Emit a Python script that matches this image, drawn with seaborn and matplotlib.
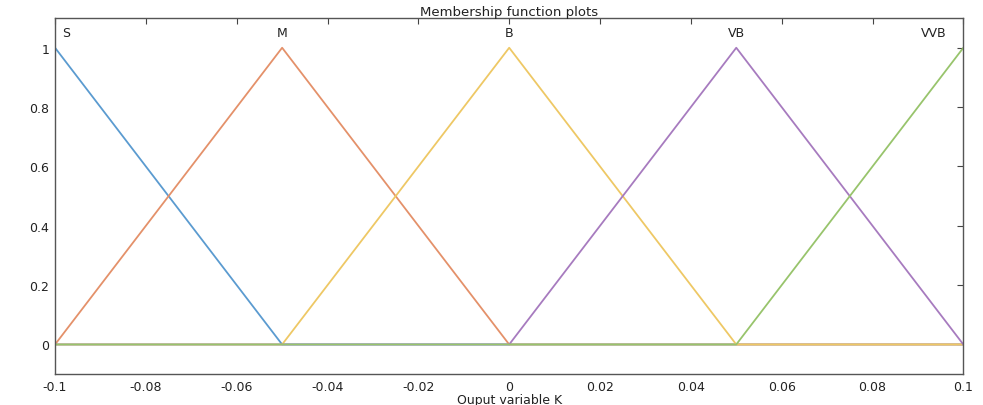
import matplotlib
matplotlib.use("Agg")
import matplotlib.pyplot as plt
import seaborn as sns
import pandas as pd

sns.set_style("white")
plt.rcParams['font.family'] = ['DejaVu Sans']

names = ["S", "M", "B", "VB", "VVB"]
x_S = [-0.1, -0.05, 0.1]
y_S = [1, 0, 0]
x_M = [-0.1, -0.05, 0.0, 0.1]
y_M = [0, 1, 0, 0]
x_B = [-0.1, -0.05, 0.0, 0.05, 0.1]
y_B = [0, 0, 1, 0, 0]
x_VB = [-0.1, 0.0, 0.05, 0.1]
y_VB = [0, 0, 1, 0]
x_VVB = [-0.1, 0.05, 0.1]
y_VVB = [0, 0, 1]

colors = ["#5b9bd0", "#e4916a", "#eec865", "#a77bbf", "#98c46c"]

series = [(x_S, y_S), (x_M, y_M), (x_B, y_B), (x_VB, y_VB), (x_VVB, y_VVB)]

fig = plt.figure(figsize=(9.83, 4.06), dpi=100)
ax = fig.add_axes([0.056, 0.076, 0.924, 0.877])

for name, (xs, ys), c in zip(names, series, colors):
    df = pd.DataFrame({"x": xs, "y": ys})
    sns.lineplot(data=df, x="x", y="y", ax=ax, color=c, linewidth=1.3,
                 sort=False, estimator=None)

label_pos = [-0.0975, -0.05, 0.0, 0.05, 0.0935]
for name, px in zip(names, label_pos):
    ax.text(px, 1.053, name, ha="center", va="center", fontsize=9, color="#222222")

ax.set_xlim(-0.1, 0.1)
ax.set_ylim(-0.1, 1.1)
xt = [-0.1, -0.08, -0.06, -0.04, -0.02, 0, 0.02, 0.04, 0.06, 0.08, 0.1]
ax.set_xticks(xt)
ax.set_xticklabels(["-0.1", "-0.08", "-0.06", "-0.04", "-0.02", "0", "0.02", "0.04", "0.06", "0.08", "0.1"])
yt = [0, 0.2, 0.4, 0.6, 0.8, 1]
ax.set_yticks(yt)
ax.set_yticklabels(["0", "0.2", "0.4", "0.6", "0.8", "1"])
ax.tick_params(direction="in", length=4, top=True, right=True, labelsize=9,
               colors="#444444", labelcolor="#222222", pad=4)
for s in ax.spines.values():
    s.set_color("#555555")
    s.set_linewidth(1.0)
ax.set_xlabel("Ouput variable K", fontsize=9, labelpad=0, color="#222222")
ax.set_ylabel("")
ax.set_title("Membership function plots", fontsize=9.5, pad=2, color="#222222")

fig.savefig("out.png", dpi=100)
